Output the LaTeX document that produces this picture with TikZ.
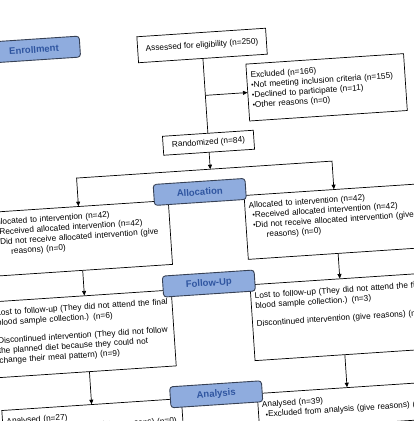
\documentclass[tikz,border=0pt]{standalone}
\usepackage{fontspec}
\setmainfont{Liberation Sans}
\usepackage{xcolor}
\usetikzlibrary{arrows.meta}

\definecolor{phasefill}{RGB}{143,172,222}
\definecolor{phasetext}{RGB}{47,85,160}
\definecolor{phaseedge}{RGB}{55,65,85}
\newcommand{\bul}{{\scriptsize\textbullet}}

\begin{document}
\begin{tikzpicture}[x=1pt,y=1pt,>={Triangle[length=4.5pt,width=4pt]},
  font=\fontsize{8.3}{10}\selectfont,
  phase/.style={draw=phaseedge,line width=0.9pt,fill=phasefill,rounded corners=3pt,
    minimum width=92pt,minimum height=21pt,text=phasetext,
    font=\fontsize{9.5}{10}\selectfont\bfseries},
  plainbox/.style={draw,line width=0.7pt,fill=white,inner sep=2pt},
  infobox/.style={draw,line width=0.7pt,fill=white,align=left,inner xsep=4pt,
    inner ysep=3pt,text height=11pt}]
\useasboundingbox (0,0) rectangle (414,421);
\clip (0,0) rectangle (414,421);
\fill[white] (0,0) rectangle (414,421);

\begin{scope}[shift={(207,210.5)},rotate=3.8,transform shape]
% top part
\node[plainbox,minimum width=129pt,minimum height=26pt] (assess) at (6,165) {Assessed for eligibility (n=250)};
\node[infobox,text width=150pt,text depth=40pt] (excl) at (127.5,115) {Excluded (n=166)\\
  \bul Not meeting inclusion criteria (n=155)\\
  \bul Declined to participate (n=11)\\
  \bul Other reasons (n=0)};
\node[plainbox,minimum width=91pt,minimum height=19pt] (rand) at (6,67.5) {Randomized (n=84)};
\coordinate (split) at (6,41);

% allocation
\node[infobox,text width=172pt,text depth=48pt,text height=10pt] (allocL) at (-128,-19.5) {Allocated to intervention (n=42)\\
  \hspace*{3pt}\bul Received allocated intervention (n=42)\\
  \hspace*{3pt}\bul Did not receive allocated intervention (give\\
  \hspace*{16pt}reasons) (n=0)};
\node[infobox,text width=172pt,text depth=48pt,text height=10pt] (allocR) at (128,-19.5) {Allocated to intervention (n=42)\\
  \hspace*{3pt}\bul Received allocated intervention (n=42)\\
  \hspace*{3pt}\bul Did not receive allocated intervention (give\\
  \hspace*{16pt}reasons) (n=0)};

% follow-up
\node[infobox,text width=172pt,text depth=59pt] (fuL) at (-131,-115) {Lost to follow-up (They did not attend the final\\
  blood sample collection.) (n=6)\\[8pt]
  Discontinued intervention (They did not follow\\
  the planned diet because they could not\\
  change their meal pattern) (n=9)};
\node[infobox,text width=172pt,text depth=59pt] (fuR) at (128,-115) {Lost to follow-up (They did not attend the final\\
  blood sample collection.) (n=3)\\[8pt]
  Discontinued intervention (give reasons) (n=0)};

% analysis
\node[infobox,text width=172pt,text depth=20pt] (anL) at (-128,-204.5) {Analysed (n=27)\\
  \hspace*{3pt}\bul Excluded from analysis (give reasons) (n=0)};
\node[infobox,text width=172pt,text depth=20pt] (anR) at (128,-204.5) {Analysed (n=39)\\
  \hspace*{3pt}\bul Excluded from analysis (give reasons) (n=3)};

% connectors
\draw[line width=0.7pt] (assess) -- (rand);
\draw[line width=0.7pt,->] (assess.south |- excl.west) -- (excl.west);
\draw[line width=0.7pt,->] (rand) -- (split);
\draw[line width=0.7pt,->] (split) -| (allocL.north);
\draw[line width=0.7pt,->] (split) -| (allocR.north);
\draw[line width=0.7pt,->] (allocL.south) -- (allocL.south |- fuL.north);
\draw[line width=0.7pt,->] (allocR) -- (fuR);
\draw[line width=0.7pt,->] (anL.north |- fuL.south) -- (anL.north);
\draw[line width=0.7pt,->] (fuR) -- (anR);

% phase labels
\node[phase] (enrol) at (-162,172) {Enrollment};
\node[phase] (alloc) at (-6,19) {Allocation};
\node[phase] (follow) at (-3,-73) {Follow-Up};
\node[phase] (analysis) at (-3,-184) {Analysis};
\end{scope}
\end{tikzpicture}
\end{document}
